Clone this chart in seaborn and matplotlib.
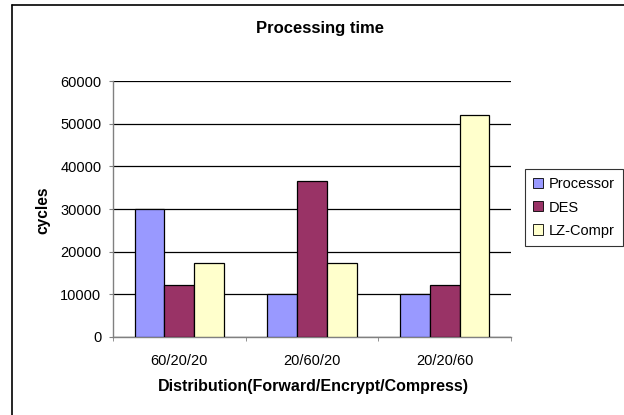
import matplotlib
matplotlib.use("Agg")
import matplotlib.pyplot as plt
import seaborn as sns
import pandas as pd
from matplotlib.lines import Line2D
from matplotlib.ticker import FixedLocator

categories = ["60/20/20", "20/60/20", "20/20/60"]
series = ["Processor", "DES", "LZ-Compr"]
processor = [30000, 10000, 10000]
des = [12200, 36500, 12200]
lz_compr = [17400, 17400, 52000]
colors = ["#9999FF", "#993366", "#FFFFCC"]

rows = []
for name, vals in zip(series, [processor, des, lz_compr]):
    for c, v in zip(categories, vals):
        rows.append({"dist": c, "series": name, "cycles": v})
df = pd.DataFrame(rows)

sns.set_style("white")
plt.rcParams["font.family"] = ["Liberation Sans", "DejaVu Sans"]
plt.rcParams["text.color"] = "black"
plt.rcParams["xtick.labelcolor"] = "black"
plt.rcParams["ytick.labelcolor"] = "black"

W, H = 624, 415
fig = plt.figure(figsize=(W / 100, H / 100), dpi=100)
ax = fig.add_axes([113 / W, 1 - 337 / H, (511 - 113) / W, (337 - 81) / H])

sns.barplot(data=df, x="dist", y="cycles", hue="series", order=categories,
            hue_order=series, palette=colors, width=0.673, gap=0,
            edgecolor="black", linewidth=0.9, saturation=1, ax=ax, zorder=3)

ax.set_ylim(0, 60000)
ax.set_xlim(-0.5, 2.5)
ax.set_yticks(range(0, 60001, 10000))
ax.yaxis.grid(True, color="black", linewidth=0.9, zorder=0)
ax.set_axisbelow(True)
for s in ["top", "right"]:
    ax.spines[s].set_visible(False)
for s in ["left", "bottom"]:
    ax.spines[s].set_color("#808080")
    ax.spines[s].set_linewidth(1.0)

ax.tick_params(axis="y", which="major", left=True, length=2.9, color="#808080",
               labelsize=10.5, pad=5.5, labelcolor="black")
ax.tick_params(axis="x", which="major", bottom=False, labelsize=10.5, pad=9,
               labelcolor="black")
ax.xaxis.set_minor_locator(FixedLocator([-0.5, 0.5, 1.5, 2.5]))
ax.tick_params(axis="x", which="minor", bottom=True, length=2.9, color="#808080")

ax.set_xlabel("")
ax.set_ylabel("")
fig.text(320 / W, 1 - 29 / H, "Processing time", fontsize=12, fontweight="bold",
         ha="center", va="center", color="black")
fig.text(42.7 / W, 1 - 210.5 / H, "cycles", fontsize=11.2, fontweight="bold",
         ha="center", va="center", rotation=90, color="black")
fig.text(313 / W, 1 - 386 / H, "Distribution(Forward/Encrypt/Compress)",
         fontsize=11.5, fontweight="bold", ha="center", va="center", color="black")

leg = ax.legend(loc="center left", bbox_to_anchor=(525 / W, 1 - 207.5 / H),
                bbox_transform=fig.transFigure, frameon=True,
                fontsize=10.5, handlelength=0.7, handleheight=0.7,
                handletextpad=0.4, borderpad=0.55, labelspacing=0.62,
                borderaxespad=0, fancybox=False, edgecolor="black")
leg.get_frame().set_linewidth(0.8)
for t in leg.get_texts():
    t.set_color("black")
for h in leg.legend_handles:
    h.set_edgecolor("black")
    h.set_linewidth(0.6)

fig.add_artist(Line2D([12 / W, 12 / W], [0, 1 - 5 / H], transform=fig.transFigure,
                      color="black", linewidth=1.2))
fig.add_artist(Line2D([12 / W, 1], [1 - 5 / H, 1 - 5 / H], transform=fig.transFigure,
                      color="black", linewidth=1.2))

fig.savefig("out.png", dpi=100)
